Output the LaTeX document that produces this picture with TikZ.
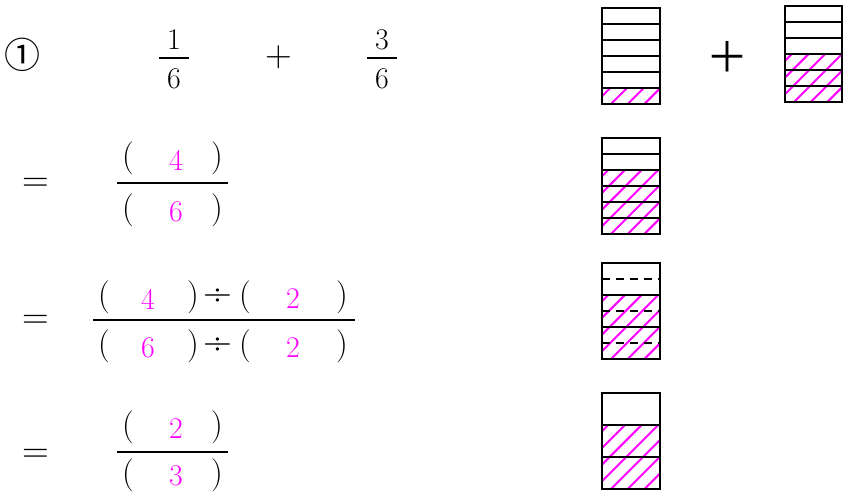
\documentclass[tikz,border=0pt]{standalone}
\usepackage{fontspec}
\newfontfamily\cjkfont{Noto Sans CJK JP}
\definecolor{mag}{RGB}{255,0,255}
\tikzset{
  txt/.style={inner sep=0pt, font=\fontsize{30}{36}\selectfont},
  par/.style={inner sep=0pt, font=\fontsize{33}{38}\selectfont},
  op/.style={inner sep=0pt, font=\fontsize{37}{40}\selectfont},
  divop/.style={inner sep=0pt, font=\fontsize{40}{44}\selectfont},
  num/.style={txt, text=mag},
  fracbar/.style={line width=2.4pt},
  grid/.style={line width=1.8pt, black},
  hatchline/.style={line width=2pt, mag},
  dashline/.style={line width=1.8pt, black, dash pattern=on 8pt off 6pt}
}
\newcommand\hatchrect[2]{% top y, bottom y
  \begin{scope}
    \clip (602,#1) rectangle (660,#2);
    \foreach \k in {-6,...,5} \draw[hatchline] ({611+\k*16.7},#2) -- ++(120,-120);
  \end{scope}}
\newcommand\hatchrectb[2]{% for the second bar
  \begin{scope}
    \clip (785,#1) rectangle (842,#2);
    \foreach \k in {-6,...,5} \draw[hatchline] ({794+\k*16.7},#2) -- ++(120,-120);
  \end{scope}}
\begin{document}
\begin{tikzpicture}[x=1pt,y=-1pt]
\useasboundingbox[fill=white] (0,0) rectangle (848,495);

% ---------- row 1 ----------
\node[inner sep=0pt, font=\cjkfont\fontsize{36}{40}\selectfont] (circ) at (23,55) {①};
\node[txt] (n1) at (174,40) {1};
\node[txt] (d1) at (174,79) {6};
\draw[fracbar] (159,58) -- (189,58);
\node[op] (p1) at (279,57) {+};
\node[txt] (n2) at (382,40) {3};
\node[txt] (d2) at (382,79) {6};
\draw[fracbar] (367,58) -- (397,58);

% ---------- row 2 ----------
\node[op] (eq2) at (36,185) {=};
\node[par] (r2lo) at (128,158) {(};
\node[num] (r2n) at (176,160) {4};
\node[par] (r2lc) at (217,158) {)};
\draw[fracbar] (117,183) -- (228,183);
\node[par] (r2do) at (128,210) {(};
\node[num] (r2d) at (176,212) {6};
\node[par] (r2dc) at (217,210) {)};

% ---------- row 3 ----------
\node[op] (eq3) at (36,322) {=};
\node[par] (r3a) at (104,297) {(};
\node[num] (r3b) at (148,299) {4};
\node[par] (r3c) at (193,297) {)};
\node[divop] (r3d) at (218,297) {÷};
\node[par] (r3e) at (245,297) {(};
\node[num] (r3f) at (293,299) {2};
\node[par] (r3g) at (342,297) {)};
\draw[fracbar] (93,320) -- (355,320);
\node[par] (r3h) at (104,346) {(};
\node[num] (r3i) at (148,348) {6};
\node[par] (r3j) at (193,346) {)};
\node[divop] (r3k) at (218,346) {÷};
\node[par] (r3l) at (245,346) {(};
\node[num] (r3m) at (293,348) {2};
\node[par] (r3n) at (342,346) {)};

% ---------- row 4 ----------
\node[op] (eq4) at (36,456) {=};
\node[par] (r4a) at (128,427) {(};
\node[num] (r4b) at (176,429) {2};
\node[par] (r4c) at (217,427) {)};
\draw[fracbar] (117,452) -- (228,452);
\node[par] (r4d) at (128,475) {(};
\node[num] (r4e) at (176,476) {3};
\node[par] (r4f) at (217,475) {)};

% ---------- bar 1 (1/6) ----------
\hatchrect{88}{104}
\draw[grid] (602,8) rectangle (660,104);
\foreach \yy in {24,40,56,72,88} \draw[grid] (602,\yy) -- (660,\yy);

% ---------- big plus ----------
\node[inner sep=0pt, font=\cjkfont\fontsize{42}{44}\selectfont] (bigplus) at (727,57) {＋};

% ---------- bar 2 (3/6) ----------
\hatchrectb{54}{102}
\draw[grid] (785,6) rectangle (842,102);
\foreach \yy in {22,38,54,70,86} \draw[grid] (785,\yy) -- (842,\yy);

% ---------- bar 3 (4/6) ----------
\hatchrect{170}{234}
\draw[grid] (602,138) rectangle (660,234);
\foreach \yy in {154,170,186,202,218} \draw[grid] (602,\yy) -- (660,\yy);

% ---------- bar 4 (thirds with dashed sixths) ----------
\hatchrect{295}{359}
\draw[grid] (602,263) rectangle (660,359);
\foreach \yy in {295,327} \draw[grid] (602,\yy) -- (660,\yy);
\foreach \yy in {279,311,343} \draw[dashline] (602,\yy) -- (660,\yy);

% ---------- bar 5 (2/3) ----------
\hatchrect{425}{489}
\draw[grid] (602,393) rectangle (660,489);
\foreach \yy in {425,457} \draw[grid] (602,\yy) -- (660,\yy);
\end{tikzpicture}
\end{document}
